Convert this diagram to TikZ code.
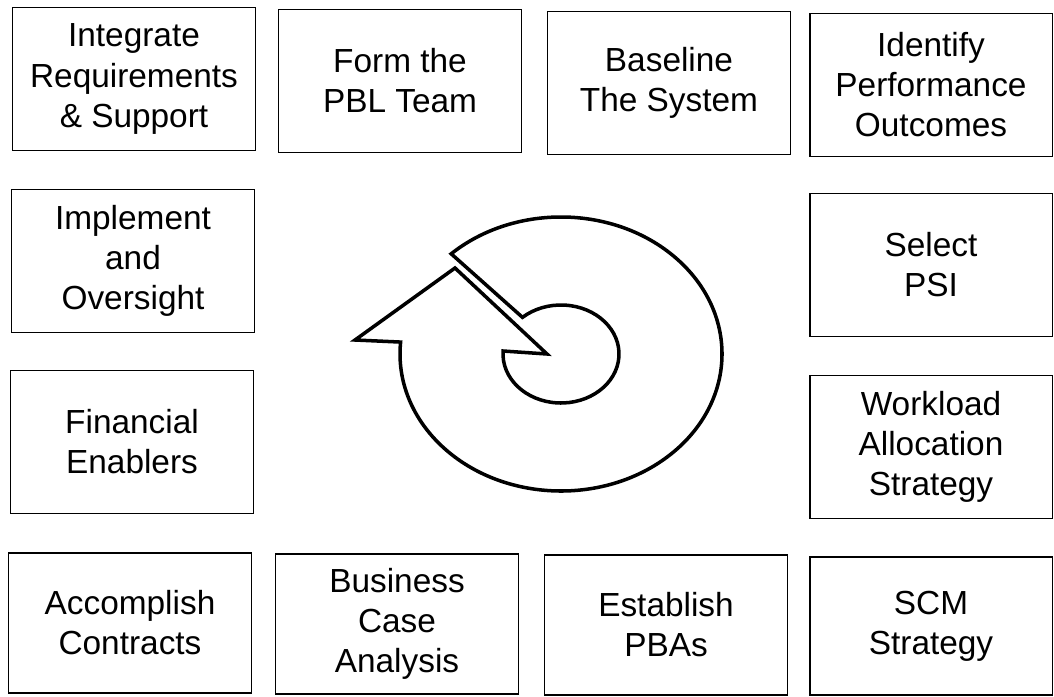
\documentclass[tikz,border=0pt]{standalone}
\usepackage{fontspec}
\setmainfont{Liberation Sans}
\usetikzlibrary{calc}
\begin{document}
\begin{tikzpicture}[x=0.02cm, y=-0.02cm,
    stage/.style={draw, line width=1.1pt, minimum width=4.86cm, minimum height=2.86cm,
      align=center, inner sep=0pt, font=\fontsize{19}{22.8}\selectfont},
    spiral/.style={draw, line width=2pt, line join=miter}]
  \useasboundingbox (0, 0) rectangle (1054, 696);

  % top row
  \node [stage] (integrate) at (134, 79) {Integrate\\Requirements\\\& Support};
  \node [stage] (formteam) at (400, 81) {Form the\\PBL Team};
  \node [stage] (baseline) at (669, 83) {Baseline\\The System};
  \node [stage] (identify) at (931, 85) {Identify\\Performance\\Outcomes};

  % side columns
  \node [stage] (implement) at (133, 261) {Implement\\and\\Oversight};
  \node [stage] (financial) at (132, 442) {Financial\\Enablers};
  \node [stage] (selectpsi) at (931, 265) {Select\\PSI};
  \node [stage] (workload) at (931, 447) {Workload\\Allocation\\Strategy};

  % bottom row
  \node [stage, minimum height=2.8cm] (contracts) at (130, 623) {Accomplish\\Contracts};
  \node [stage, minimum height=2.8cm] (bca) at (397, 624) {Business\\Case\\Analysis};
  \node [stage, minimum height=2.8cm] (pbas) at (666, 625) {Establish\\PBAs};
  \node [stage, minimum height=2.76cm] (scm) at (931, 626) {SCM\\Strategy};

  % spiral arrow
  \coordinate (hub) at (561, 354);
  \draw [spiral] ($(hub) + (227:161 and 137)$)
      arc [start angle=227, end angle=545, x radius=161, y radius=137]
      -- (355, 340) -- (455, 268) -- (547, 354)
      -- ($(hub) + (183.5:58 and 49)$)
      arc [start angle=183.5, end angle=-131.6, x radius=58, y radius=49]
      -- cycle;
\end{tikzpicture}
\end{document}
